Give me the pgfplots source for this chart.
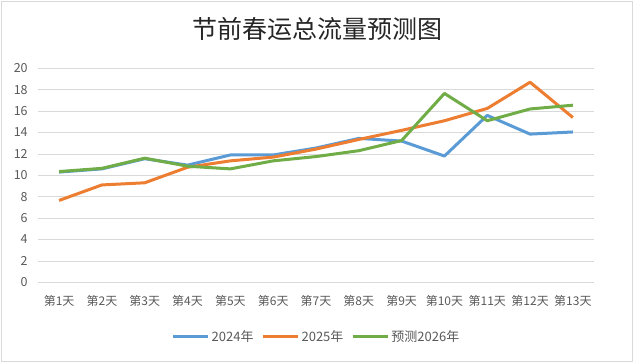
\documentclass[border=0pt]{standalone}
\usepackage{pgfplots}
\pgfplotsset{compat=1.18}
\usepackage{fontspec}
\setmainfont{Noto Sans CJK SC}
\definecolor{cblue}{HTML}{5B9BD5}
\definecolor{corange}{HTML}{ED7D31}
\definecolor{cgreen}{HTML}{70AD47}
\definecolor{cgrid}{HTML}{D9D9D9}
\definecolor{ctext}{HTML}{595959}
\definecolor{ctitle}{HTML}{262626}
\begin{document}
\begin{tikzpicture}[x=1bp,y=1bp]
\useasboundingbox (0,0) rectangle (635,362);
\draw[cgrid, line width=0.75bp] (1.5,1) rectangle (632,361);
\node[font=\fontsize{25bp}{28bp}\selectfont, text=ctitle] at (317,333) {节前春运总流量预测图};
\begin{axis}[
  at={(37.7bp,79.7bp)}, anchor=south west,
  scale only axis, width=556.6bp, height=214bp,
  xmin=0.5, xmax=13.5, ymin=0, ymax=20,
  ytick={0,2,...,20},
  xtick={1,...,13},
  xticklabels={第1天,第2天,第3天,第4天,第5天,第6天,第7天,第8天,第9天,第10天,第11天,第12天,第13天},
  axis line style={draw=none},
  major tick length=0pt,
  ymajorgrids, grid style={cgrid, line width=0.75bp},
  /pgf/number format/assume math mode=true,
  tick label style={font=\fontsize{12bp}{14bp}\selectfont, text=ctext},
  yticklabel style={anchor=east, xshift=-6.5bp, font=\fontsize{12.5bp}{14bp}\selectfont},
  xticklabel style={anchor=base, yshift=-23bp},
  legend columns=3,
  legend style={draw=none, fill=none, at={(278.8bp,-54.4bp)}, anchor=center, font=\fontsize{13bp}{15bp}\selectfont, text=ctext,
    /tikz/every even column/.append style={column sep=6bp}},
  legend cell align=left,
  legend image code/.code={\draw[#1] (0bp,0bp) -- (35bp,0bp);},
]
\addplot[cblue, mark=none, line width=3bp, line join=round] coordinates {(1,10.3) (2,10.6) (3,11.55) (4,10.95) (5,11.9) (6,11.9) (7,12.55) (8,13.45) (9,13.2) (10,11.8) (11,15.6) (12,13.85) (13,14.05)};
\addlegendentry{2024年}
\addplot[corange, mark=none, line width=3bp, line join=round] coordinates {(1,7.65) (2,9.1) (3,9.3) (4,10.75) (5,11.35) (6,11.7) (7,12.45) (8,13.35) (9,14.2) (10,15.1) (11,16.25) (12,18.7) (13,15.4)};
\addlegendentry{2025年}
\addplot[cgreen, mark=none, line width=3bp, line join=round] coordinates {(1,10.35) (2,10.65) (3,11.6) (4,10.85) (5,10.6) (6,11.35) (7,11.75) (8,12.3) (9,13.25) (10,17.65) (11,15.1) (12,16.2) (13,16.55)};
\addlegendentry{预测2026年}
\end{axis}
\end{tikzpicture}
\end{document}
